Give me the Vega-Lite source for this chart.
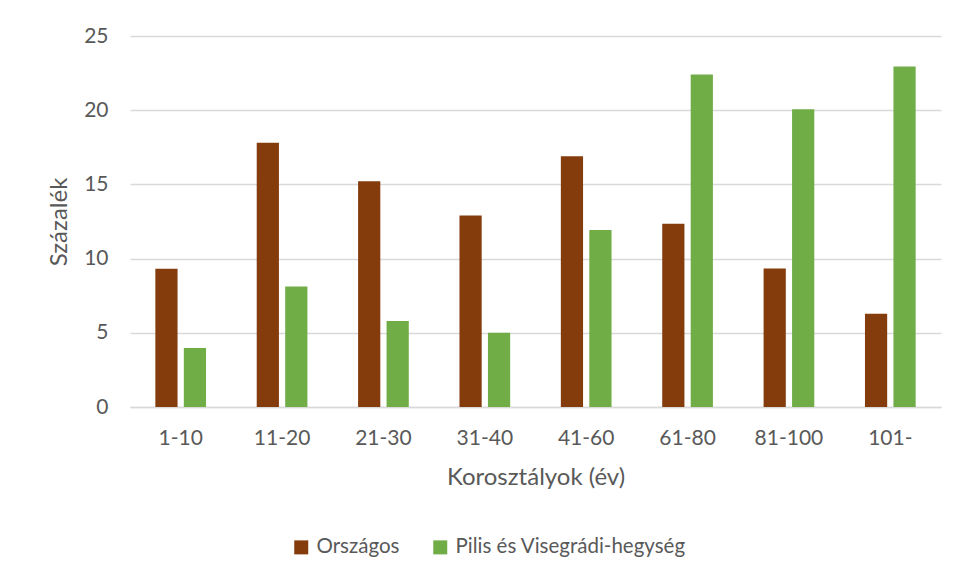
{
  "$schema": "https://vega.github.io/schema/vega-lite/v6.json",
  "width": 811,
  "height": 371,
  "autosize": {"type": "none"},
  "padding": {"left": 130, "top": 36, "right": 17, "bottom": 176},
  "background": "white",
  "config": {
    "font": "Lato",
    "view": {"stroke": null},
    "axis": {"labelColor": "#595959", "titleColor": "#595959", "labelFont": "Lato", "titleFont": "Lato", "titleFontWeight": "normal"}
  },
  "data": {
    "values": [
      {"kor": "1-10", "sorozat": "Országos", "ertek": 9.32},
      {"kor": "1-10", "sorozat": "Pilis és Visegrádi-hegység", "ertek": 3.97},
      {"kor": "11-20", "sorozat": "Országos", "ertek": 17.8},
      {"kor": "11-20", "sorozat": "Pilis és Visegrádi-hegység", "ertek": 8.12},
      {"kor": "21-30", "sorozat": "Országos", "ertek": 15.22},
      {"kor": "21-30", "sorozat": "Pilis és Visegrádi-hegység", "ertek": 5.79},
      {"kor": "31-40", "sorozat": "Országos", "ertek": 12.9},
      {"kor": "31-40", "sorozat": "Pilis és Visegrádi-hegység", "ertek": 5.0},
      {"kor": "41-60", "sorozat": "Országos", "ertek": 16.9},
      {"kor": "41-60", "sorozat": "Pilis és Visegrádi-hegység", "ertek": 11.92},
      {"kor": "61-80", "sorozat": "Országos", "ertek": 12.35},
      {"kor": "61-80", "sorozat": "Pilis és Visegrádi-hegység", "ertek": 22.4},
      {"kor": "81-100", "sorozat": "Országos", "ertek": 9.34},
      {"kor": "81-100", "sorozat": "Pilis és Visegrádi-hegység", "ertek": 20.06},
      {"kor": "101-", "sorozat": "Országos", "ertek": 6.28},
      {"kor": "101-", "sorozat": "Pilis és Visegrádi-hegység", "ertek": 22.94}
    ]
  },
  "mark": {"type": "bar"},
  "encoding": {
    "x": {
      "field": "kor",
      "type": "nominal",
      "sort": null,
      "scale": {"paddingInner": 0.5, "paddingOuter": 0.25},
      "axis": {
        "title": "Korosztályok (év)",
        "titleFontSize": 24,
        "titlePadding": 17,
        "labelFontSize": 21,
        "labelAngle": 0,
        "labelPadding": 20,
        "ticks": false,
        "domainColor": "#D9D9D9",
        "domainWidth": 1.5,
        "grid": false
      }
    },
    "xOffset": {
      "field": "sorozat",
      "type": "nominal",
      "scale": {"paddingInner": 0.22, "paddingOuter": 0}
    },
    "y": {
      "field": "ertek",
      "type": "quantitative",
      "scale": {"domain": [0, 25]},
      "axis": {
        "title": "Százalék",
        "titleFontSize": 24,
        "titlePadding": 12,
        "labelFontSize": 21,
        "labelPadding": 22,
        "labelOverlap": false,
        "values": [0, 5, 10, 15, 20, 25],
        "ticks": false,
        "domain": false,
        "gridColor": "#D9D9D9",
        "gridWidth": 1.5
      }
    },
    "color": {
      "field": "sorozat",
      "type": "nominal",
      "scale": {"domain": ["Országos", "Pilis és Visegrádi-hegység"], "range": ["#843C0C", "#70AD47"]},
      "legend": {
        "title": null,
        "orient": "none",
        "direction": "horizontal",
        "legendX": 161,
        "legendY": 501,
        "symbolType": "square",
        "symbolSize": 196,
        "symbolStrokeWidth": 0,
        "labelFontSize": 20.5,
        "labelColor": "#595959",
        "labelFont": "Lato",
        "labelOffset": 5,
        "labelLimit": 0,
        "columnPadding": 30
      }
    }
  }
}
